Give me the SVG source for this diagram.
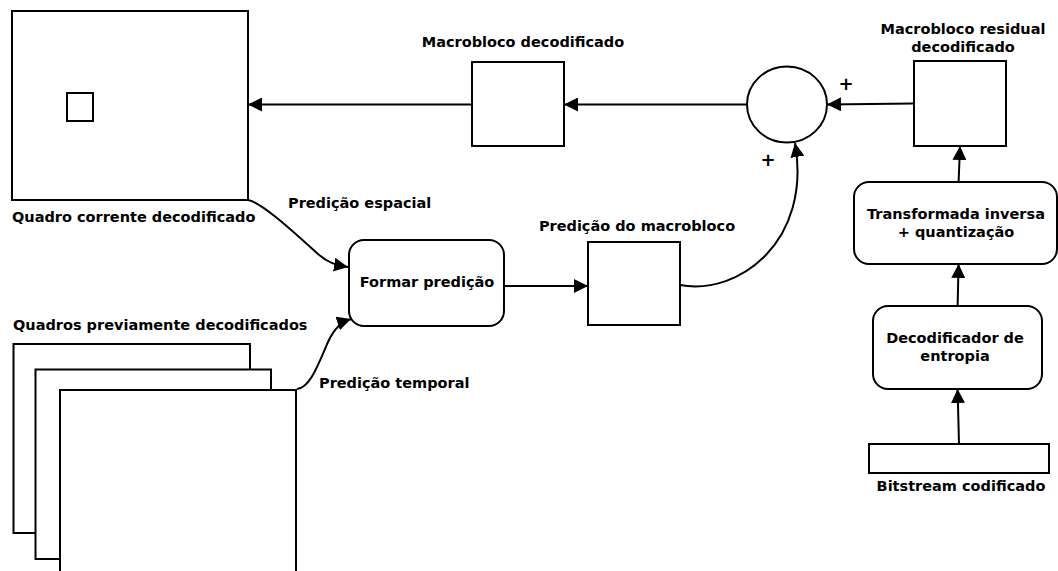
<svg xmlns="http://www.w3.org/2000/svg" width="1058" height="571" viewBox="0 0 1058 571">
<style>
.box{fill:#fff;stroke:#000;stroke-width:2}
.lbl{font-family:"DejaVu Sans",sans-serif;font-weight:bold;font-size:14.5px;fill:#000}
.mid{text-anchor:middle}
.conn{fill:none;stroke:#000;stroke-width:2}
.plus{font-family:"DejaVu Sans",sans-serif;font-weight:bold;font-size:18px;fill:#000;text-anchor:middle}
</style>
<defs>
<marker id="arr" markerUnits="userSpaceOnUse" markerWidth="15" markerHeight="14" refX="14" refY="7" orient="auto">
<path d="M0,0 L14,7 L0,14 z" fill="#000"/>
</marker>
</defs>
<rect width="1058" height="571" fill="#fff"/>

<g id="quadro-corrente">
<rect class="box" x="12" y="11" width="236" height="189"/>
<rect class="box" x="67" y="93" width="26" height="28"/>
<text class="lbl" x="12" y="222">Quadro corrente decodificado</text>
</g>

<g id="macrobloco-decodificado">
<rect class="box" x="472" y="62" width="92" height="84"/>
<text class="lbl mid" x="523" y="47">Macrobloco decodificado</text>
</g>

<g id="somador">
<ellipse class="box" cx="787" cy="104.5" rx="40" ry="38"/>
<text class="plus" x="846" y="90">+</text>
<text class="plus" x="768" y="166">+</text>
</g>

<g id="macrobloco-residual">
<rect class="box" x="914" y="61" width="92" height="85"/>
<text class="lbl mid" x="963" y="34">Macrobloco residual</text>
<text class="lbl mid" x="963" y="52">decodificado</text>
</g>

<g id="formar-predicao">
<rect class="box" x="349" y="240" width="155" height="86" rx="15" ry="15"/>
<text class="lbl mid" x="427" y="287">Formar predição</text>
</g>

<g id="predicao-macrobloco">
<rect class="box" x="588" y="242" width="92" height="83"/>
<text class="lbl mid" x="637" y="231">Predição do macrobloco</text>
</g>

<g id="transformada">
<rect class="box" x="854" y="182" width="203" height="82" rx="15" ry="15"/>
<text class="lbl mid" x="956" y="219">Transformada inversa</text>
<text class="lbl mid" x="956" y="237">+ quantização</text>
</g>

<g id="decodificador-entropia">
<rect class="box" x="873" y="306" width="169" height="83" rx="15" ry="15"/>
<text class="lbl mid" x="955" y="343">Decodificador de</text>
<text class="lbl mid" x="955" y="361">entropia</text>
</g>

<g id="bitstream">
<rect class="box" x="869" y="444" width="180" height="29"/>
<text class="lbl mid" x="961" y="491">Bitstream codificado</text>
</g>

<g id="quadros-previos">
<rect class="box" x="13.5" y="344" width="236.5" height="189"/>
<rect class="box" x="35.5" y="369.5" width="235.5" height="189.5"/>
<rect class="box" x="60" y="390" width="236" height="200"/>
<text class="lbl" x="13" y="330">Quadros previamente decodificados</text>
</g>

<g id="connectors">
<line class="conn" x1="472" y1="104.5" x2="248" y2="104.5" marker-end="url(#arr)"/>
<line class="conn" x1="747" y1="104.5" x2="564" y2="104.5" marker-end="url(#arr)"/>
<line class="conn" x1="914" y1="103.5" x2="827" y2="104.5" marker-end="url(#arr)"/>
<path class="conn" d="M680,285 C740,296 812,240 795,143" marker-end="url(#arr)"/>
<line class="conn" x1="504" y1="286" x2="588" y2="286" marker-end="url(#arr)"/>
<path class="conn" d="M248,200 C262,202 300,238 318,254 C328,263 336,265 348,267" marker-end="url(#arr)"/>
<path class="conn" d="M297,389 C310,388 318,365 328,342 C335,327 342,322 351,319" marker-end="url(#arr)"/>
<line class="conn" x1="958.6" y1="182" x2="960" y2="146" marker-end="url(#arr)"/>
<line class="conn" x1="957.6" y1="306" x2="958.6" y2="264" marker-end="url(#arr)"/>
<line class="conn" x1="959" y1="444" x2="957.6" y2="389" marker-end="url(#arr)"/>
<text class="lbl" x="288" y="208">Predição espacial</text>
<text class="lbl" x="319" y="388">Predição temporal</text>
</g>
</svg>
